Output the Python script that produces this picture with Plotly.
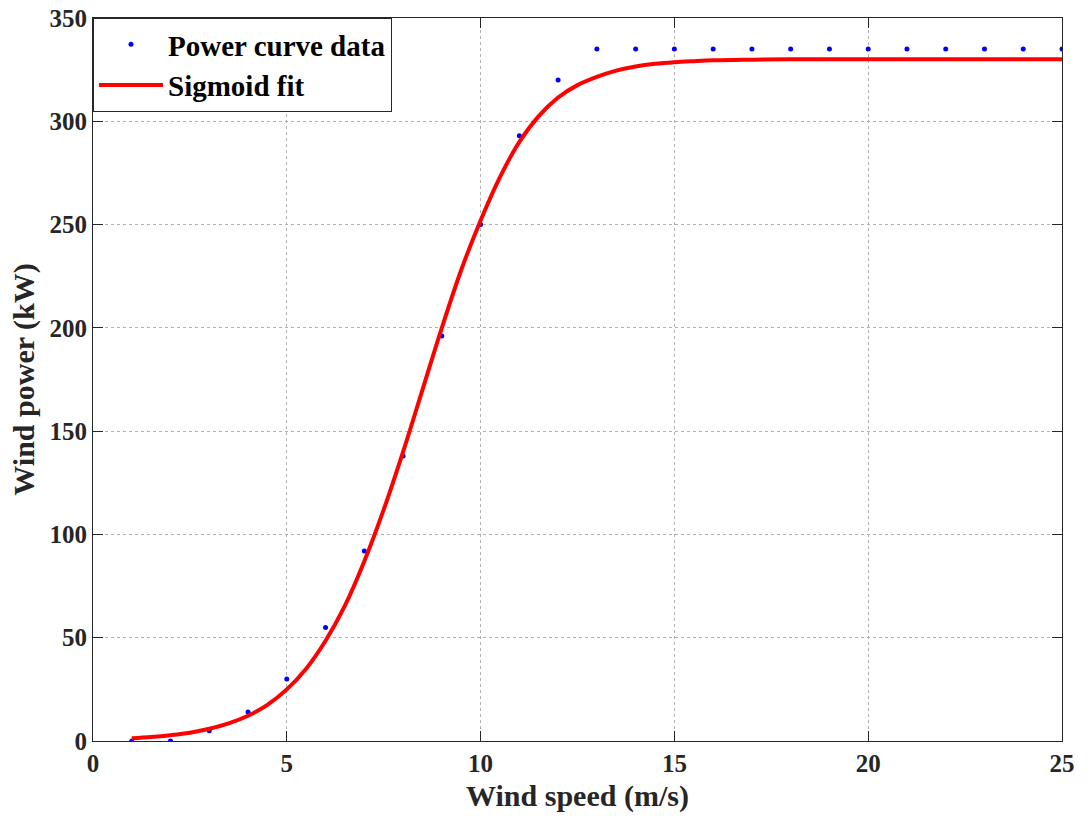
import plotly.graph_objects as go

# Power curve data
speed = list(range(1, 26))
power = [0, 0, 5, 14, 30, 55, 92, 138, 196, 250, 293, 320,
         335, 335, 335, 335, 335, 335, 335, 335, 335, 335, 335, 335, 335]

# Sigmoid fit curve
fit_x = [1, 1.5, 2, 2.5, 3, 3.5, 4, 4.5, 5, 5.5, 6, 6.5, 7, 7.5, 8, 8.5, 9, 9.5, 10,
         10.5, 11, 11.5, 12, 12.5, 13, 13.5, 14, 14.5, 15, 15.5, 16, 17, 18, 19, 20,
         21, 22, 23, 24, 25]
fit_y = [1.3, 1.9, 2.8, 4.0, 5.9, 8.5, 12.2, 17.5, 25, 35, 48.5, 65.5, 87, 112, 140,
         170, 200, 228, 252, 273, 290, 302.5, 311.5, 317.5, 321.5, 324.5, 326.5, 327.8,
         328.6, 329.1, 329.5, 329.8, 330, 330, 330, 330, 330, 330, 330, 330]

FONT = "Liberation Serif"

fig = go.Figure()
fig.add_trace(go.Scatter(
    x=speed, y=power, mode="markers", name="Power curve data",
    marker=dict(color="#0000ff", size=5),
))
fig.add_trace(go.Scatter(
    x=fit_x, y=fit_y, mode="lines", name="Sigmoid fit",
    line=dict(color="#ff0000", width=4, shape="spline", smoothing=1.0),
))

axis_common = dict(
    showline=True, linecolor="#262626", linewidth=1, mirror="ticks",
    ticks="inside", ticklen=10, tickcolor="#262626", tickwidth=1,
    showgrid=True, gridcolor="#b0b0b0", griddash="dot", gridwidth=1,
    zeroline=False, automargin=False,
    tickfont=dict(family=FONT, size=25, color="#262626", weight="bold"),
)

fig.update_layout(
    width=1088, height=816,
    margin=dict(l=93, r=26, t=18, b=75, autoexpand=False),
    paper_bgcolor="white", plot_bgcolor="white",
    font=dict(family=FONT, color="#262626"),
    xaxis=dict(
        range=[0, 25], tickvals=[0, 5, 10, 15, 20, 25],
        title=dict(text="Wind speed (m/s)", standoff=8,
                   font=dict(family=FONT, size=30, color="#262626", weight="bold")),
        **axis_common,
    ),
    yaxis=dict(
        range=[0, 350], tickvals=[0, 50, 100, 150, 200, 250, 300, 350],
        title=dict(text="Wind power (kW)", standoff=6,
                   font=dict(family=FONT, size=30, color="#262626", weight="bold")),
        **axis_common,
    ),
    legend=dict(
        x=0, y=1, xanchor="left", yanchor="top",
        bgcolor="white", bordercolor="#262626", borderwidth=1,
        font=dict(family=FONT, size=29, color="black", weight="bold"),
        itemwidth=64, tracegroupgap=0,
    ),
    showlegend=True,
)

fig.write_html("out.html")
